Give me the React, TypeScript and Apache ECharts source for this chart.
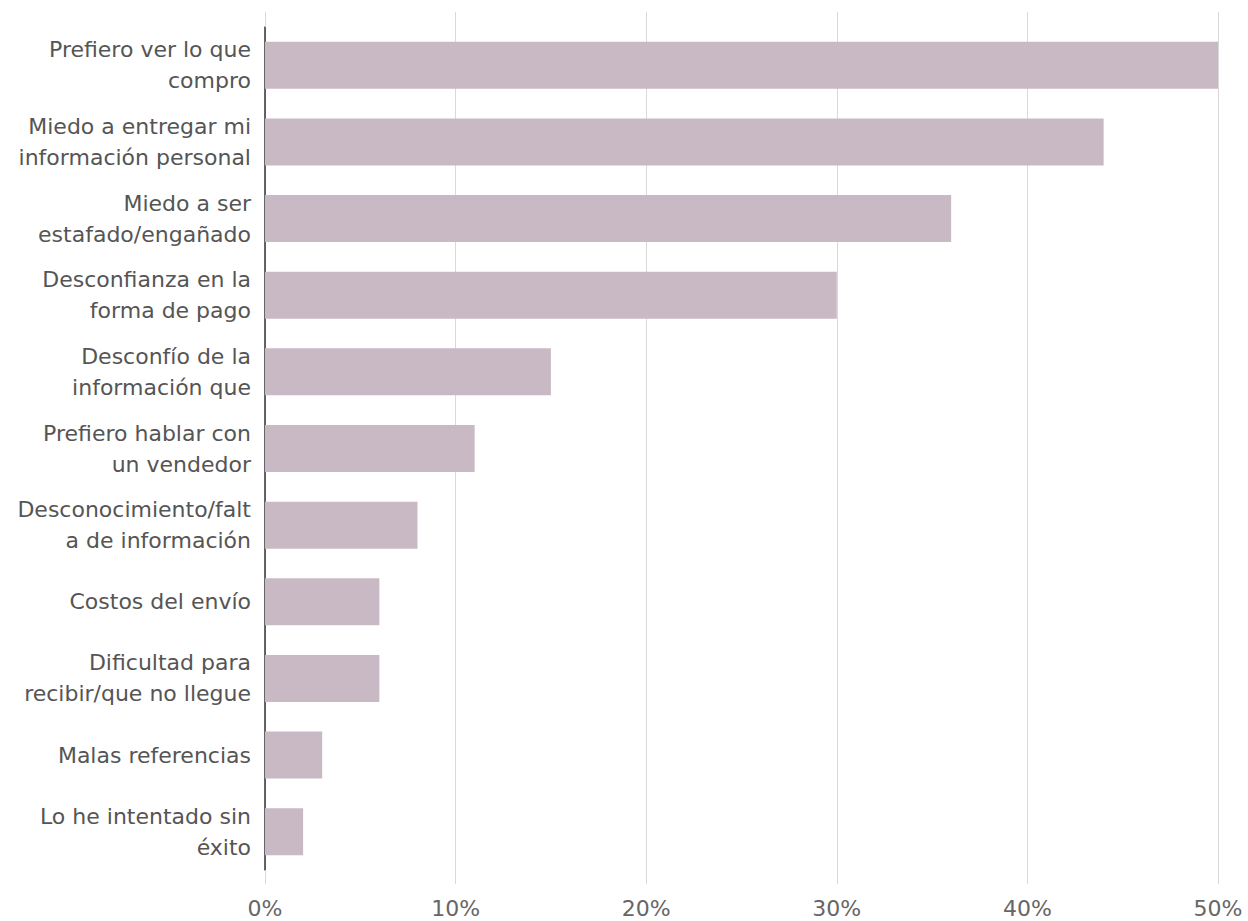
import React, { useEffect, useRef } from "react";
import * as echarts from "echarts";

const categories = [
  "Prefiero ver lo que\ncompro",
  "Miedo a entregar mi\ninformación personal",
  "Miedo a ser\nestafado/engañado",
  "Desconfianza en la\nforma de pago",
  "Desconfío de la\ninformación que",
  "Prefiero hablar con\nun vendedor",
  "Desconocimiento/falt\na de información",
  "Costos del envío",
  "Dificultad para\nrecibir/que no llegue",
  "Malas referencias",
  "Lo he intentado sin\néxito",
];
const values = [50, 44, 36, 30, 15, 11, 8, 6, 6, 3, 2];
const xTicks = [0, 10, 20, 30, 40, 50];

export default function App() {
  const ref = useRef<HTMLDivElement>(null);
  useEffect(() => {
    if (!ref.current) return;
    const chart = echarts.init(ref.current, undefined, { renderer: "svg" });
    const font = "'DejaVu Sans', Verdana, sans-serif";
    chart.setOption({
      animation: false,
      backgroundColor: "#ffffff",
      grid: { left: 265, right: 30, top: 27, bottom: 51, containLabel: false },
      xAxis: [
        {
          type: "value",
          min: xTicks[0],
          max: xTicks[xTicks.length - 1],
          interval: 10,
          position: "bottom",
          axisLine: { show: false },
          axisTick: { show: true, length: 14, lineStyle: { color: "#d9d9d9", width: 1 } },
          splitLine: { show: true, lineStyle: { color: "#d9d9d9", width: 1 } },
          axisLabel: {
            formatter: (v: number) => `${v}%`,
            color: "#666666",
            fontSize: 22,
            fontFamily: font,
            margin: 27,
          },
        },
        {
          type: "value",
          min: xTicks[0],
          max: xTicks[xTicks.length - 1],
          interval: 10,
          position: "top",
          axisLine: { show: false },
          axisTick: { show: true, length: 15, lineStyle: { color: "#d9d9d9", width: 1 } },
          splitLine: { show: false },
          axisLabel: { show: false },
        },
      ],
      yAxis: {
        type: "category",
        data: categories,
        inverse: true,
        axisLine: { show: true, lineStyle: { color: "#333333", width: 1.5 } },
        axisTick: { show: false },
        axisLabel: {
          color: "#555555",
          fontSize: 22,
          lineHeight: 31,
          fontFamily: font,
          margin: 14,
          align: "right",
        },
      },
      series: [
        {
          type: "bar",
          data: values,
          barWidth: 47,
          itemStyle: { color: "#c8b9c5" },
          xAxisIndex: 0,
        },
      ],
    });
    return () => chart.dispose();
  }, []);
  return (
    <div
      ref={ref}
      style={{ position: "fixed", left: 0, top: 0, width: 1248, height: 921 }}
    />
  );
}
